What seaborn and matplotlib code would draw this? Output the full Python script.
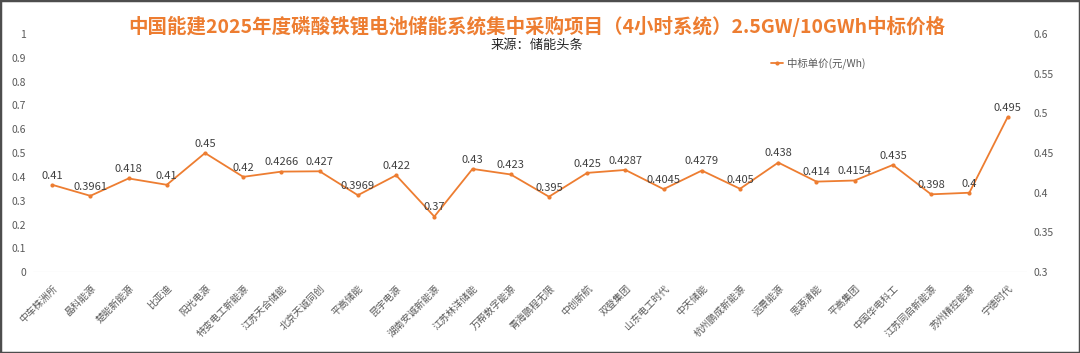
import matplotlib
matplotlib.use("Agg")
import matplotlib.pyplot as plt
import seaborn as sns
import pandas as pd
from matplotlib.patches import Rectangle

companies = ["中车株洲所", "晶科能源", "楚能新能源", "比亚迪", "阳光电源", "特变电工新能源",
             "江苏天合储能", "北京天诚同创", "平高储能", "昆宇电源", "湖南安诚新能源",
             "江苏林洋储能", "万帮数字能源", "青海鹏程无限", "中创新航", "双登集团",
             "山东电工时代", "中天储能", "杭州鹏成新能源", "远景能源", "思源清能",
             "平高集团", "中国华电科工", "江苏同启新能源", "苏州精控能源", "宁德时代"]
prices = [0.41, 0.3961, 0.418, 0.41, 0.45, 0.42, 0.4266, 0.427, 0.3969, 0.422, 0.37,
          0.43, 0.423, 0.395, 0.425, 0.4287, 0.4045, 0.4279, 0.405, 0.438, 0.414,
          0.4154, 0.435, 0.398, 0.4, 0.495]
price_labels = ["0.41", "0.3961", "0.418", "0.41", "0.45", "0.42", "0.4266", "0.427",
                "0.3969", "0.422", "0.37", "0.43", "0.423", "0.395", "0.425", "0.4287",
                "0.4045", "0.4279", "0.405", "0.438", "0.414", "0.4154", "0.435",
                "0.398", "0.4", "0.495"]
left_ticks = [0, 0.1, 0.2, 0.3, 0.4, 0.5, 0.6, 0.7, 0.8, 0.9, 1]
right_ticks = [0.3, 0.35, 0.4, 0.45, 0.5, 0.55, 0.6]

series_name = "中标单价(元/Wh)"
df = pd.DataFrame({"company": companies, series_name: prices})

sns.set_style("white")
plt.rcParams["font.family"] = ["Noto Sans CJK SC", "DejaVu Sans"]

orange = "#ED7D31"
txt = "#595959"

fig = plt.figure(figsize=(10.8, 3.53), dpi=100)
ax = fig.add_axes([0.0306, 0.229, 0.920, 0.675])
ax2 = ax.twinx()

sns.lineplot(data=df, x="company", y=series_name, ax=ax2, color=orange,
             marker="o", markersize=3, markeredgewidth=0, linewidth=1.3,
             label=series_name, sort=False)

for i, (v, lab) in enumerate(zip(prices, price_labels)):
    ax2.annotate(lab, (i, v), xytext=(0, 3), textcoords="offset points",
                 ha="center", va="bottom", fontsize=8, color="#404040")

ax.set_ylim(0, 1)
ax.set_yticks(left_ticks)
ax.set_yticklabels([f"{t:g}" for t in left_ticks])
ax2.set_ylim(0.3, 0.6)
ax2.set_yticks(right_ticks)
ax2.set_yticklabels([f"{t:g}" for t in right_ticks])
ax.set_xlim(-0.5, len(companies) - 0.5)
ax.set_xticks(range(len(companies)))
ax.set_xticklabels(companies, rotation=45, ha="right", rotation_mode="anchor")

for a in (ax, ax2):
    for s in a.spines.values():
        s.set_visible(False)
    a.tick_params(length=0, labelsize=7.5, labelcolor=txt, pad=5)
    a.set_xlabel("")
    a.set_ylabel("")
ax.tick_params(axis="x", labelsize=7, pad=8)
ax.axhline(0, color="#D9D9D9", linewidth=0.8, zorder=0)

ax2.legend(loc="upper center", bbox_to_anchor=(0.79, 0.94), frameon=False,
           fontsize=7.5, handlelength=1.2, handletextpad=0.3, labelcolor=txt)

fig.text(0.497, 0.925, "中国能建2025年度磷酸铁锂电池储能系统集中采购项目（4小时系统）2.5GW/10GWh中标价格",
         ha="center", va="center", fontsize=14, fontweight="bold", color=orange)
fig.text(0.497, 0.872, "来源：储能头条", ha="center", va="center", fontsize=9.5, color="#262626")

fig.patches.append(Rectangle((0, 0), 1, 1, transform=fig.transFigure, fill=False,
                             edgecolor="#4D4D4D", linewidth=2.5))

fig.savefig("out.png", dpi=100)
